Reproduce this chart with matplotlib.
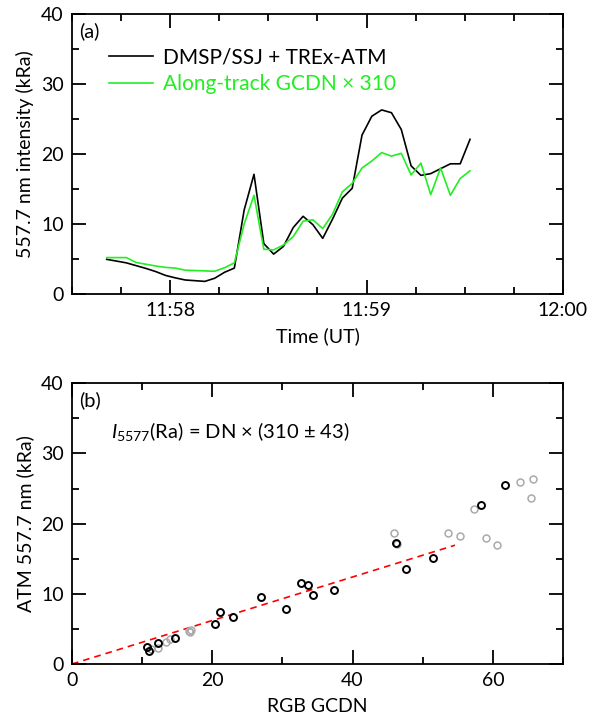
import numpy as np
from matplotlib import pyplot as plt, ticker as plticker

plt.rcParams["font.family"] = ["Lato", "DejaVu Sans"]
plt.rcParams["mathtext.fontset"] = "custom"
plt.rcParams["mathtext.rm"] = "Lato"
plt.rcParams["mathtext.it"] = "Lato:italic"

# (a) time series, seconds after 11:57:00 UT
t_sec = [40.6, 43.6, 46.6, 49.6, 52.6, 55.6, 58.6, 61.6, 64.6, 67.6,
         70.6, 73.6, 76.6, 79.6, 82.6, 85.6, 88.6, 91.6, 94.6, 97.6,
         100.6, 103.6, 106.6, 109.6, 112.6, 115.6, 118.6, 121.6, 124.6, 127.6,
         130.6, 133.6, 136.6, 139.6, 142.6, 145.6, 148.6, 151.6]
atm = [4.95, 4.7, 4.45, 4.05, 3.65, 3.2, 2.65, 2.3, 2.0, 1.9,
       1.8, 2.25, 3.1, 3.7, 12.0, 17.1, 7.2, 5.7, 6.8, 9.5,
       11.1, 9.9, 7.95, 10.7, 13.7, 15.1, 22.7, 25.4, 26.3, 25.9,
       23.5, 18.3, 16.95, 17.2, 17.9, 18.6, 18.6, 22.1]
gcdn_scaled = [5.2, 5.2, 5.2, 4.5, 4.25, 4.0, 3.8, 3.7, 3.4, 3.35,
               3.3, 3.25, 3.75, 4.45, 10.0, 14.1, 6.4, 6.3, 7.0, 8.2,
               10.4, 10.6, 9.35, 11.4, 14.6, 15.8, 18.0, 19.0, 20.2, 19.7,
               20.1, 17.0, 18.7, 14.2, 18.0, 14.1, 16.5, 17.6]

# (b) scatter
dn_black = [10.7, 11.0, 12.2, 14.7, 20.4, 21.1, 23.0, 26.9, 30.5, 32.6,
            33.6, 34.4, 37.4, 46.2, 47.6, 51.4, 58.3, 61.8]
atm_black = [2.4, 1.9, 3.0, 3.7, 5.7, 7.4, 6.7, 9.5, 7.9, 11.5,
             11.2, 9.8, 10.6, 17.2, 13.5, 15.1, 22.6, 25.5]
dn_gray = [11.3, 12.3, 13.4, 14.0, 16.7, 16.8, 16.9, 45.9, 46.3, 53.6,
           55.3, 57.3, 59.0, 60.6, 63.9, 65.4, 65.7]
atm_gray = [2.1, 2.3, 3.2, 3.6, 4.7, 4.5, 4.9, 18.6, 17.1, 18.6,
            18.3, 22.1, 17.9, 16.9, 25.9, 23.6, 26.3]
slope = 0.310
fit_dn = [0, 54.6]

GREEN = "#22ee22"

fig = plt.figure(figsize=(6.04, 7.16), dpi=100)
ax1 = fig.add_axes([0.1192, 0.5894, 0.8129, 0.3910])
ax2 = fig.add_axes([0.1192, 0.0726, 0.8129, 0.3921])


def style_axis(ax):
    for s in ax.spines.values():
        s.set_linewidth(1.3)
    ax.tick_params(which="both", direction="in", top=True, right=True,
                   width=1.3, labelsize=14, pad=6)
    ax.tick_params(which="major", length=10)
    ax.tick_params(which="minor", length=5)


ax1.plot(t_sec, atm, color="black", lw=1.2, label="DMSP/SSJ + TREx-ATM")
ax1.plot(t_sec, gcdn_scaled, color=GREEN, lw=1.2,
         label="Along-track GCDN \u00d7 310")
ax1.set_xlim(30, 180)
ax1.set_ylim(0, 40)
ax1.xaxis.set_major_locator(plticker.FixedLocator([60, 120, 180]))
ax1.xaxis.set_major_formatter(plticker.FixedFormatter(["11:58", "11:59", "12:00"]))
ax1.xaxis.set_minor_locator(plticker.MultipleLocator(15))
ax1.yaxis.set_major_locator(plticker.MultipleLocator(10))
ax1.yaxis.set_minor_locator(plticker.MultipleLocator(5))
style_axis(ax1)
ax1.set_xlabel("Time (UT)", fontsize=14, labelpad=6)
ax1.set_ylabel("557.7 nm intensity (kRa)", fontsize=14, labelpad=5)
ax1.text(0.015, 0.97, "(a)", transform=ax1.transAxes, fontsize=14.5, va="top")
leg = ax1.legend(loc="upper left", bbox_to_anchor=(0.058, 0.91), frameon=False,
                 fontsize=15, handlelength=2.1, handletextpad=0.5,
                 labelspacing=0.3, borderaxespad=0)
leg.get_texts()[1].set_color(GREEN)

ax2.plot(fit_dn, [slope * d for d in fit_dn], color="red", lw=1.2, ls=(0, (4, 3)))
ax2.plot(dn_gray, atm_gray, "o", mfc="none", mec="#aaaaaa", ms=5, mew=1.1)
ax2.plot(dn_black, atm_black, "o", mfc="none", mec="black", ms=5, mew=1.4)
ax2.set_xlim(0, 70)
ax2.set_ylim(0, 40)
ax2.xaxis.set_major_locator(plticker.MultipleLocator(20))
ax2.xaxis.set_minor_locator(plticker.MultipleLocator(10))
ax2.yaxis.set_major_locator(plticker.MultipleLocator(10))
ax2.yaxis.set_minor_locator(plticker.MultipleLocator(5))
style_axis(ax2)
ax2.set_xlabel("RGB GCDN", fontsize=14, labelpad=6)
ax2.set_ylabel("ATM 557.7 nm (kRa)", fontsize=14, labelpad=5)
ax2.text(0.015, 0.97, "(b)", transform=ax2.transAxes, fontsize=14.5, va="top")
ax2.text(0.08, 0.83, "$I_{5577}$(Ra) = DN \u00d7 (310 \u00b1 43)",
         transform=ax2.transAxes, fontsize=14.5, va="center")

fig.savefig("out.png", dpi=100)
